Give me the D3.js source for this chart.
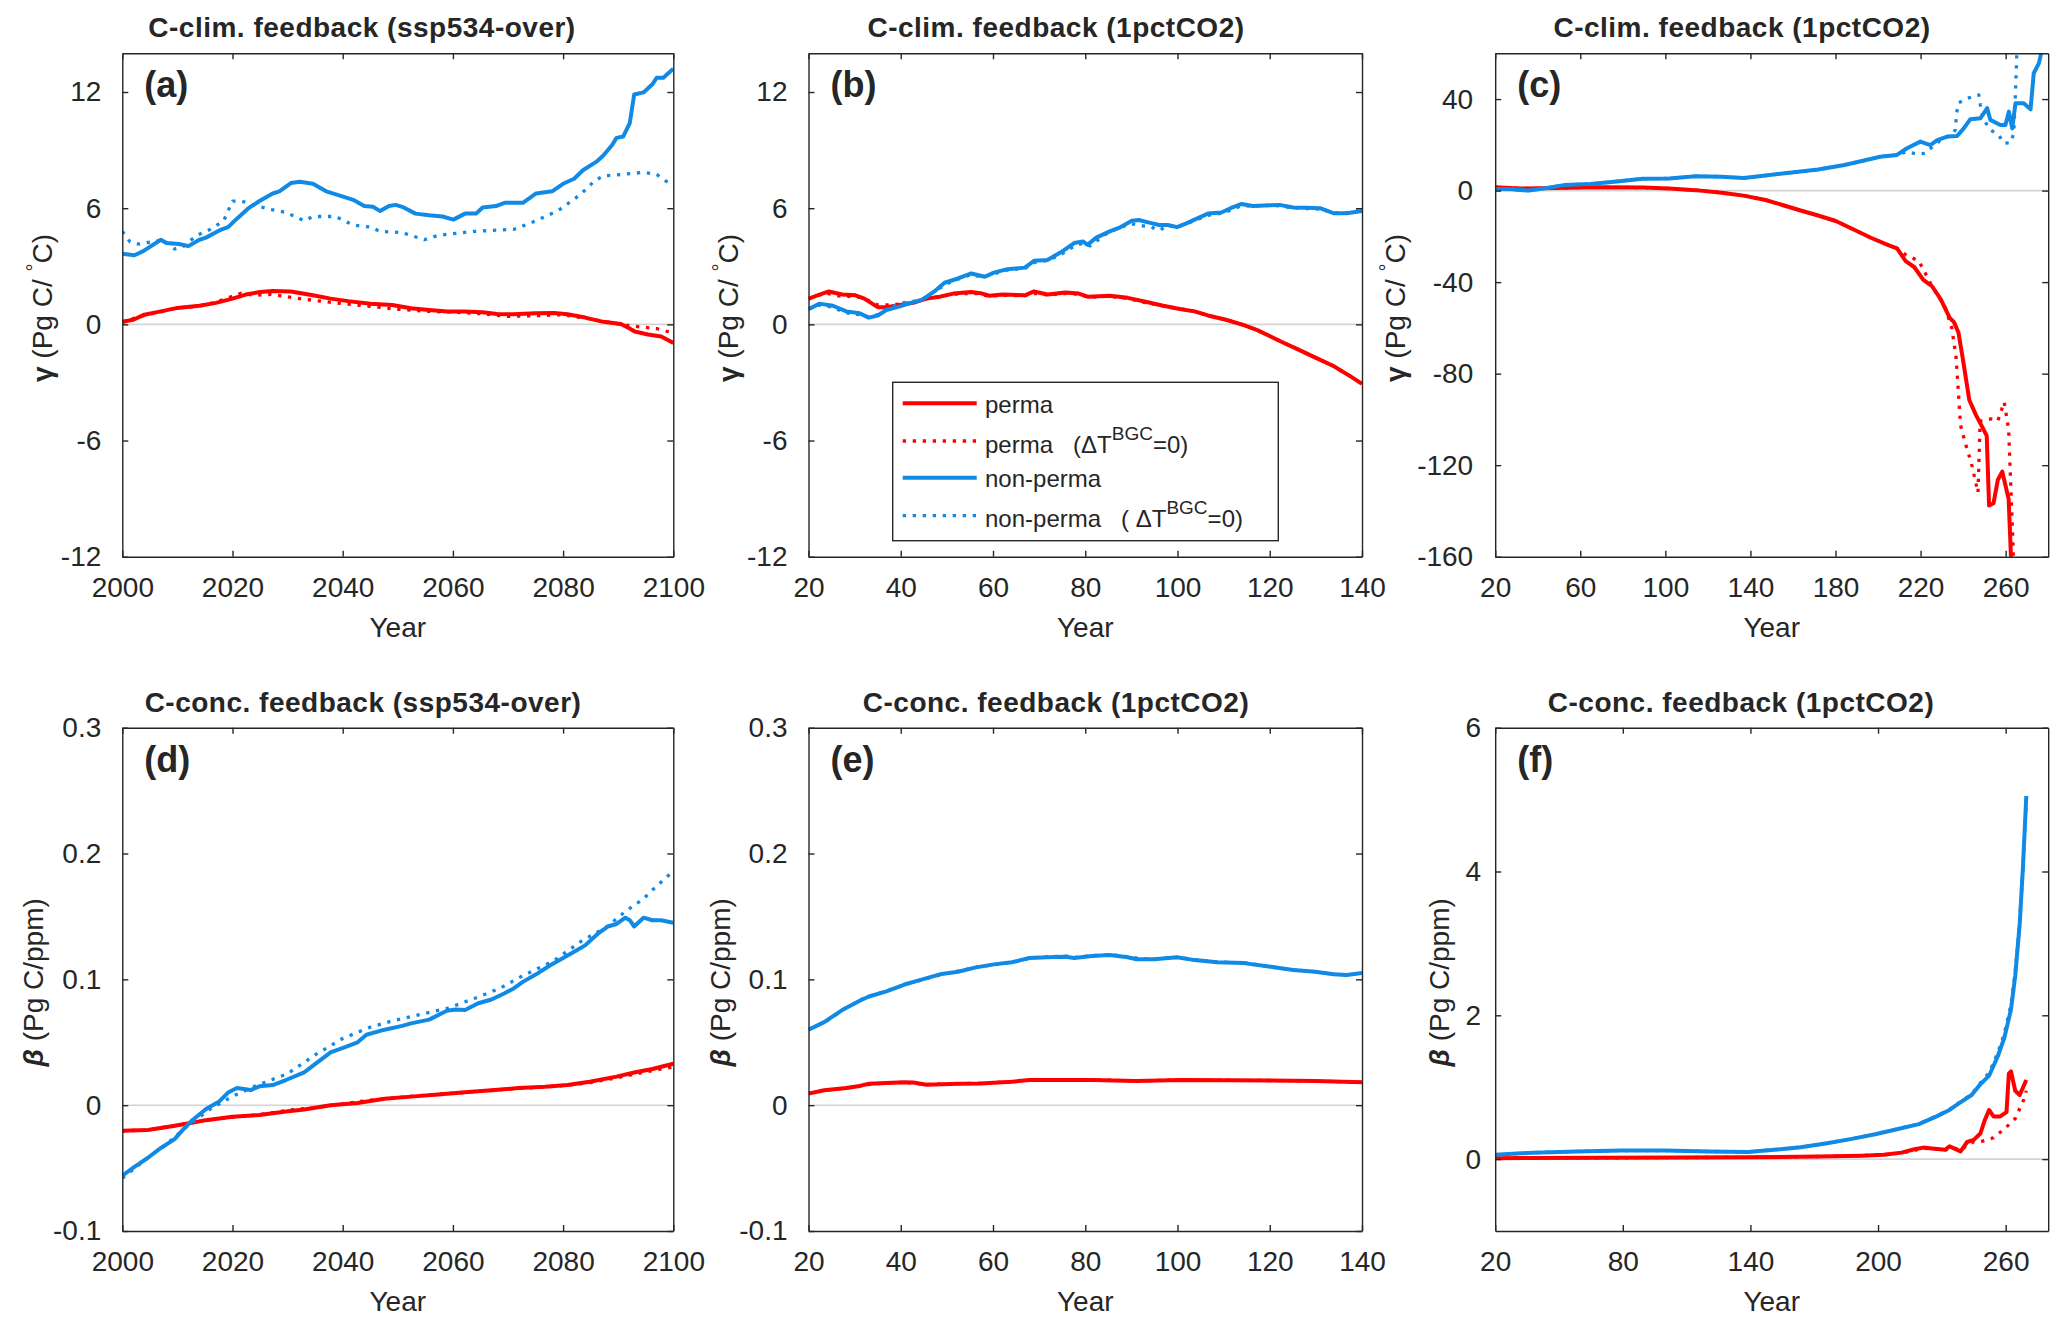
<!DOCTYPE html>
<html>
<head>
<meta charset="utf-8">
<script src="https://cdn.jsdelivr.net/npm/d3@7"></script>
<style>
  body { margin: 0; background: #fff; }
  text { font-family: "Liberation Sans", Arial, Helvetica, sans-serif; fill: #262626; }
</style>
</head>
<body>
<script>
// ---------- data ----------
var titles = ["C-clim. feedback (ssp534-over)", "C-clim. feedback (1pctCO2)", "C-clim. feedback (1pctCO2)",
              "C-conc. feedback (ssp534-over)", "C-conc. feedback (1pctCO2)", "C-conc. feedback (1pctCO2)"];
var panelLabels = ["(a)", "(b)", "(c)", "(d)", "(e)", "(f)"];
var legendLabels = ["perma", "perma", "non-perma", "non-perma"];

var ticksSsp = [2000, 2020, 2040, 2060, 2080, 2100];
var ticks140 = [20, 40, 60, 80, 100, 120, 140];
var ticksC = [20, 60, 100, 140, 180, 220, 260];
var ticksF = [20, 80, 140, 200, 260];
var ticksGamma = [-12, -6, 0, 6, 12];
var ticksGammaC = [-160, -120, -80, -40, 0, 40];
var ticksBeta = [-0.1, 0, 0.1, 0.2, 0.3];
var ticksBetaF = [0, 2, 4, 6];

// (a) gamma, ssp534-over
var a_perma = [[2000,0.13],[2002,0.24],[2004,0.5],[2007,0.67],[2010,0.85],[2014,0.96],[2017,1.11],[2020,1.33],[2022.4,1.54],[2025,1.67],[2027.3,1.72],[2030.6,1.7],[2034.6,1.5],[2037.8,1.33],[2041,1.2],[2045,1.07],[2049,1.0],[2052.4,0.83],[2055.7,0.74],[2059,0.67],[2062,0.67],[2065.4,0.63],[2068,0.54],[2071,0.52],[2075,0.57],[2078.4,0.59],[2080.8,0.52],[2084,0.35],[2087.3,0.13],[2090.5,0.02],[2092,-0.2],[2093,-0.37],[2095.4,-0.52],[2097.8,-0.63],[2100,-0.96]];
var a_permaDot = [[2000,0.1],[2003,0.4],[2007,0.65],[2010,0.85],[2014,0.95],[2017,1.15],[2020,1.45],[2021.5,1.6],[2024,1.5],[2027,1.55],[2030,1.42],[2033,1.3],[2036,1.2],[2040,1.07],[2045,0.93],[2050,0.78],[2055,0.68],[2060,0.63],[2065,0.55],[2070,0.41],[2075,0.45],[2080,0.5],[2085,0.28],[2090,0.02],[2093,-0.1],[2097,-0.22],[2100,-0.45]];
var a_non = [[2000,3.65],[2002.2,3.57],[2003.8,3.78],[2007,4.37],[2008,4.2],[2010.3,4.15],[2012,4.04],[2014,4.37],[2015.2,4.48],[2017.6,4.85],[2019.2,5.02],[2020.8,5.46],[2022.9,6.0],[2024.9,6.37],[2027.3,6.76],[2028.5,6.87],[2030.6,7.3],[2032.2,7.37],[2034.6,7.26],[2037,6.87],[2039.5,6.65],[2041.9,6.43],[2043.9,6.11],[2045.5,6.07],[2046.8,5.85],[2048.4,6.11],[2049.6,6.17],[2050.8,6.07],[2053.2,5.72],[2055.7,5.63],[2058.1,5.57],[2060.1,5.41],[2062.2,5.72],[2064.2,5.72],[2065.4,6.04],[2067.8,6.11],[2069.4,6.28],[2072.7,6.28],[2075.1,6.76],[2078,6.87],[2080,7.26],[2082,7.52],[2083.6,7.96],[2086,8.39],[2087.3,8.72],[2088.9,9.26],[2089.7,9.63],[2090.9,9.7],[2092.1,10.4],[2092.9,11.87],[2094.6,11.98],[2096.2,12.4],[2097,12.74],[2098.2,12.74],[2100,13.2]];
var a_nonDot = [[2000,4.8],[2001.4,4.26],[2003,4.15],[2005.4,4.26],[2007.4,4.37],[2009.5,3.89],[2011.1,4.04],[2013.5,4.59],[2016,4.91],[2018.4,5.35],[2020,6.37],[2021.6,6.37],[2023.3,6.22],[2026.5,5.96],[2029.7,5.78],[2033,5.35],[2034.6,5.57],[2038.7,5.57],[2041.9,5.13],[2045.1,5.02],[2046.8,4.8],[2050.8,4.74],[2054.8,4.37],[2057.3,4.59],[2060.5,4.7],[2063.8,4.8],[2067,4.85],[2071.1,4.91],[2075.1,5.35],[2079.2,5.89],[2083.2,6.72],[2085.7,7.41],[2087.3,7.67],[2090.5,7.74],[2094.6,7.85],[2097,7.74],[2098.6,7.41],[2100,7.2]];

// (b) gamma, 1pctCO2 (first 140 years)
var b_perma = [[20,1.33],[22.4,1.54],[24.4,1.7],[27.3,1.54],[30.2,1.5],[32.1,1.33],[35,0.89],[36.9,0.89],[39.8,1.0],[42.7,1.11],[45.6,1.33],[48.5,1.43],[51.4,1.59],[55.3,1.67],[57.3,1.61],[59.2,1.48],[62.1,1.54],[66.9,1.5],[68.9,1.7],[71.8,1.54],[75.7,1.65],[78.6,1.59],[80.5,1.43],[85.3,1.48],[89.2,1.37],[93.1,1.17],[96.9,0.96],[100.8,0.78],[103.7,0.67],[106.6,0.46],[110.5,0.24],[114.4,-0.04],[117.3,-0.3],[120.2,-0.63],[123.1,-0.96],[126,-1.28],[129.9,-1.72],[133.8,-2.15],[137.6,-2.7],[140,-3.07]];
var b_permaDot = [[20,1.3],[22,1.5],[24,1.6],[27,1.45],[30,1.45],[32,1.35],[35,1.0],[37,1.0],[40,1.05],[43,1.15],[46,1.35],[49,1.45],[51,1.55],[55,1.6],[57,1.58],[59,1.45],[62,1.5],[67,1.48],[69,1.6],[72,1.52],[76,1.6],[79,1.55],[80.5,1.4],[85,1.45],[89,1.35],[93,1.12],[97,0.95],[100.8,0.8],[103.7,0.67],[106.6,0.46],[110.5,0.24],[114.4,-0.04],[117.3,-0.3],[120.2,-0.63],[123.1,-0.96],[126,-1.28],[129.9,-1.72],[133.8,-2.15],[137.6,-2.7],[140,-3.07]];
var b_non = [[20,0.78],[22.4,1.07],[25.3,0.96],[28.2,0.67],[31.1,0.57],[33.1,0.35],[35,0.46],[36.9,0.74],[39.8,0.93],[42.7,1.15],[44.7,1.28],[47.6,1.76],[49.5,2.15],[52.4,2.37],[55.3,2.63],[58.2,2.46],[60.2,2.67],[63.1,2.85],[66.9,2.93],[68.9,3.28],[71.8,3.33],[74.7,3.72],[77.6,4.2],[79.5,4.28],[80.5,4.11],[82.4,4.48],[85.3,4.8],[87.3,4.98],[90.1,5.35],[91.6,5.39],[94.1,5.24],[96,5.13],[97.9,5.13],[99.9,5.02],[101.8,5.2],[103.7,5.41],[106.6,5.72],[109.5,5.78],[111.5,6.0],[113.9,6.22],[116.3,6.11],[120.2,6.15],[122.1,6.17],[125.1,6.04],[128,6.02],[130.9,6.0],[133.8,5.74],[136.7,5.74],[140,5.85]];
var b_nonDot = [[20,0.8],[22,1.0],[25,0.9],[28,0.6],[31,0.5],[33,0.35],[35,0.5],[37,0.8],[40,1.1],[43,1.2],[45,1.35],[48,1.8],[50,2.1],[52,2.3],[55,2.55],[58,2.45],[60,2.6],[63,2.8],[67,2.9],[69,3.2],[72,3.3],[75,3.65],[78,4.1],[80,4.2],[81,4.05],[83,4.4],[85,4.75],[87,4.95],[90,5.2],[92,5.1],[94,5.05],[96,4.85],[98,5.1],[100,5.05],[102,5.2],[104,5.4],[107,5.65],[110,5.75],[112,5.95],[114,6.15],[116,6.1],[120,6.15],[122,6.12],[125,6.02],[128,5.98],[131,5.95],[134,5.75],[137,5.78],[140,5.88]];

// (c) gamma, 1pctCO2 (full run)
var c_perma = [[20,1.5],[31.7,0.9],[48.2,1.1],[68.8,1.5],[89.4,1.3],[101.8,0.9],[114.1,0.2],[126.5,-0.9],[136.8,-2.2],[147.1,-4.1],[155.4,-6.4],[163.6,-8.7],[171.8,-10.9],[180.1,-13.3],[188.3,-16.9],[196.6,-20.6],[204.8,-23.8],[208.9,-25.2],[213,-30.8],[217.1,-33.5],[221.3,-39],[225.4,-41.8],[229.5,-47.5],[233.7,-55.6],[235.7,-57.5],[237.8,-62],[239.8,-73.1],[242.9,-91.5],[246,-98],[249.1,-103.5],[251.1,-107.2],[252.2,-137.6],[254.3,-136.6],[256.3,-126.5],[258.4,-122.8],[261.4,-134.8],[262.5,-160],[263,-175]];
var c_permaDot = [[20,1.5],[31.7,0.9],[48.2,1.1],[68.8,1.5],[89.4,1.3],[101.8,0.9],[114.1,0.2],[126.5,-0.9],[136.8,-2.2],[147.1,-4.1],[155.4,-6.4],[163.6,-8.7],[171.8,-10.9],[180.1,-13.3],[188.3,-16.9],[196.6,-20.6],[204.8,-23.8],[208.9,-25.2],[213,-28],[219.2,-30.8],[225.4,-41.8],[231.6,-51],[234.7,-60.2],[236.7,-73.1],[238.8,-102.6],[240.9,-110],[243.9,-119.2],[247,-132],[248,-100.7],[253.2,-99.8],[256.3,-100.7],[259.3,-92.4],[261.4,-104.4],[263.5,-156],[264,-175]];
var c_non = [[20,0.7],[27.6,0.55],[35.9,0],[44.1,1.1],[52.3,2.4],[64.7,2.9],[77.1,4.0],[89.4,5.2],[101.8,5.3],[114.1,6.3],[126.5,6.1],[136.8,5.5],[147.1,6.6],[159.5,7.9],[171.8,9.2],[184.2,11.2],[192.4,12.9],[201,14.8],[208.9,15.6],[213.6,18.5],[219.9,21.4],[224.6,19.9],[227.8,22.1],[232.5,23.6],[237.2,23.9],[240.3,27.2],[243.4,31.2],[248.1,31.6],[251.3,36],[252.8,30.9],[257.5,28.7],[259.9,28.7],[261.5,34.5],[263.1,27.2],[264.6,38.2],[268.5,38.2],[271.7,35.5],[273.2,51.3],[275.6,55.6],[277.2,62],[278,70]];
var c_nonDot = [[20,0.7],[27.6,0.55],[35.9,0],[44.1,1.1],[52.3,2.4],[64.7,2.9],[77.1,4.0],[89.4,5.2],[101.8,5.3],[114.1,6.3],[126.5,6.1],[136.8,5.5],[147.1,6.6],[159.5,7.9],[171.8,9.2],[184.2,11.2],[192.4,12.9],[201,14.8],[208.9,15.6],[213.6,17],[218.3,16],[222.3,16.3],[226,19.5],[230,22.5],[234,24],[236.4,26.5],[236.9,33.8],[238,38.4],[241.9,40.3],[247.4,41.8],[248.1,37.4],[249.7,30.9],[252.8,26.5],[256.7,24.3],[259.1,20.7],[262.3,20.9],[263.8,25],[264.6,42.5],[265.1,55.6],[265.5,70]];

// (d) beta, ssp534-over
var d_perma = [[2000,-0.0203],[2004.6,-0.0197],[2008.7,-0.017],[2011.9,-0.0146],[2015.2,-0.0119],[2020,-0.0092],[2024.9,-0.0078],[2029.7,-0.0051],[2033,-0.0034],[2037.8,0],[2042.7,0.0017],[2047.6,0.0051],[2052.4,0.0068],[2057.3,0.0085],[2062.2,0.0102],[2067,0.0119],[2071.9,0.0136],[2076.7,0.0146],[2080.8,0.016],[2084.8,0.0186],[2089.7,0.0227],[2092.9,0.026],[2096.2,0.0288],[2100,0.0329]];
var d_permaDot = [[2000,-0.0205],[2005,-0.0195],[2010,-0.016],[2015,-0.012],[2020,-0.0095],[2025,-0.0075],[2030,-0.004],[2035,-0.002],[2040,0.001],[2045,0.004],[2050,0.006],[2055,0.008],[2060,0.0095],[2065,0.011],[2070,0.0128],[2075,0.014],[2080,0.0155],[2085,0.018],[2090,0.022],[2095,0.0265],[2100,0.0305]];
var d_non = [[2000,-0.056],[2002.2,-0.049],[2004.6,-0.042],[2007,-0.034],[2009.5,-0.027],[2011.1,-0.019],[2012.7,-0.012],[2015.2,-0.003],[2017.6,0.003],[2019.2,0.01],[2020.8,0.0136],[2023.3,0.012],[2024.9,0.015],[2027.3,0.016],[2029.7,0.02],[2033,0.026],[2035.4,0.034],[2037.8,0.042],[2040.3,0.046],[2042.7,0.05],[2044.3,0.056],[2047.6,0.06],[2050.8,0.063],[2052.4,0.065],[2055.7,0.068],[2058.9,0.075],[2060.5,0.076],[2062.2,0.0756],[2064.6,0.081],[2067,0.084],[2069.4,0.089],[2071.1,0.093],[2072.7,0.098],[2075.1,0.104],[2077.6,0.111],[2080,0.117],[2082.4,0.123],[2084,0.127],[2086.5,0.137],[2088.1,0.142],[2089.7,0.144],[2091.3,0.149],[2092.1,0.147],[2092.9,0.142],[2094.6,0.149],[2096.2,0.147],[2097.8,0.147],[2100,0.145]];
var d_nonDot = [[2000,-0.058],[2004,-0.044],[2008,-0.031],[2012,-0.016],[2016,-0.003],[2018,0.002],[2020,0.007],[2024,0.015],[2030,0.025],[2035,0.04],[2040,0.053],[2045,0.062],[2049,0.067],[2054,0.072],[2059,0.077],[2064,0.085],[2068.6,0.093],[2072.3,0.102],[2078.4,0.115],[2083.2,0.13],[2088,0.142],[2091.3,0.154],[2094.6,0.164],[2096.2,0.171],[2100,0.186]];

// (e) beta, 1pctCO2 (first 140 years)
var e_perma = [[20,0.0092],[23.4,0.0119],[28.2,0.0136],[31.1,0.0153],[33.1,0.017],[36.9,0.0176],[40.8,0.0183],[42.7,0.018],[45.6,0.0163],[52.4,0.017],[57.3,0.0173],[64.1,0.0186],[67.9,0.02],[76.6,0.02],[81.5,0.02],[91.1,0.0193],[100.8,0.02],[120.2,0.0197],[129.9,0.0193],[140,0.0183]];
var e_permaDot = [[20,0.0095],[24,0.012],[28,0.0135],[31,0.015],[34,0.017],[38,0.0178],[41,0.0182],[45,0.0165],[52,0.017],[58,0.0175],[64,0.0188],[68,0.02],[77,0.0198],[82,0.0202],[91,0.0192],[100,0.0201],[120,0.0196],[130,0.0192],[140,0.0182]];
var e_non = [[20,0.06],[23.4,0.066],[27.3,0.0756],[31.1,0.083],[33.1,0.0864],[36.9,0.0905],[40.8,0.0959],[44.7,0.1],[48.5,0.104],[52.4,0.106],[56.3,0.1095],[60.2,0.1119],[64.1,0.1136],[67.9,0.117],[71.8,0.1176],[75.7,0.118],[77.6,0.117],[81.5,0.1186],[85.3,0.1193],[89.2,0.1176],[91.1,0.116],[95,0.116],[99.9,0.1176],[103.7,0.1153],[108.6,0.1136],[114.4,0.1129],[120.2,0.11],[125.1,0.1075],[129.9,0.106],[133.8,0.104],[136.7,0.1034],[140,0.105]];
var e_nonDot = [[20,0.06],[24,0.067],[28,0.077],[32,0.085],[37,0.091],[41,0.096],[45,0.1],[49,0.104],[53,0.107],[57,0.11],[61,0.112],[65,0.114],[68,0.117],[72,0.118],[76,0.1185],[78,0.1175],[82,0.119],[86,0.1195],[89,0.118],[92,0.1165],[96,0.1165],[100,0.1175],[104,0.1155],[109,0.1138],[115,0.113],[120,0.11],[125,0.1077],[130,0.106],[134,0.104],[137,0.1035],[140,0.105]];

// (f) beta, 1pctCO2 (full run)
var f_perma = [[20,0.012],[68.8,0.018],[138.9,0.024],[171.8,0.036],[192.4,0.048],[202.7,0.06],[211,0.09],[217.1,0.137],[221.3,0.16],[225.4,0.149],[231.6,0.13],[233.6,0.178],[235.7,0.149],[238.8,0.107],[241.9,0.238],[245,0.267],[248.1,0.356],[250.1,0.535],[252.2,0.683],[254.3,0.594],[257.4,0.594],[260.4,0.654],[261.5,1.19],[262.5,1.22],[264.5,0.951],[266.6,0.891],[269.7,1.1]];
var f_permaDot = [[20,0.012],[68.8,0.018],[138.9,0.024],[171.8,0.036],[192.4,0.048],[202.7,0.06],[211,0.085],[217,0.12],[221,0.15],[226,0.14],[232,0.13],[236,0.15],[239,0.12],[242,0.2],[245,0.24],[248,0.238],[254.3,0.297],[260.4,0.446],[264.5,0.564],[268.6,0.832],[269.7,0.95]];
var f_non = [[20,0.06],[37.9,0.09],[58.5,0.107],[79.1,0.119],[99.7,0.119],[120.3,0.107],[138.9,0.1],[151.2,0.13],[163.6,0.166],[176,0.22],[188.3,0.285],[198.6,0.345],[208.9,0.416],[219.2,0.487],[227.5,0.594],[233.6,0.683],[237.8,0.772],[244,0.891],[248.1,1.04],[252.2,1.16],[256.3,1.43],[259.4,1.69],[262.5,2.08],[264.5,2.55],[266.6,3.27],[268.2,4.1],[269.7,5.05]];
var f_nonDot = [[20,0.06],[37.9,0.09],[58.5,0.107],[79.1,0.119],[99.7,0.119],[120.3,0.107],[138.9,0.1],[151.2,0.13],[163.6,0.166],[176,0.22],[188.3,0.285],[198.6,0.345],[208.9,0.42],[219.2,0.49],[227.5,0.6],[233.6,0.69],[237.8,0.78],[244,0.9],[248.1,1.06],[252.2,1.2],[256.3,1.48],[259.4,1.75],[262.5,2.15],[264.5,2.6],[266.6,3.3],[268.2,4.1],[269.7,5.0]];

// ---------- layout ----------
var width = 2067, height = 1329;
var red = "#ff0000", blue = "#118ae6";

var svg = d3.select("body").append("svg")
    .attr("width", width)
    .attr("height", height);

var top1 = 53.3, bot1 = 556.7, top2 = 727.7, bot2 = 1231;
var cols = [[122.3, 673.3], [808.5, 1362], [1495.2, 2048.2]];

var panels = [
  {x: cols[0], y: [top1, bot1], xd: [2000, 2100], yd: [-12, 14], xt: ticksSsp, yt: ticksGamma, titleX: 362, ylabX: 52, pad: 21, kind: "g",
   lines: [a_perma, a_permaDot, a_non, a_nonDot]},
  {x: cols[1], y: [top1, bot1], xd: [20, 140], yd: [-12, 14], xt: ticks140, yt: ticksGamma, titleX: 1056, ylabX: 738, pad: 21, kind: "g",
   lines: [b_perma, b_permaDot, b_non, b_nonDot]},
  {x: cols[2], y: [top1, bot1], xd: [20, 280], yd: [-160, 60], xt: ticksC, yt: ticksGammaC, titleX: 1742, ylabX: 1405, pad: 22, kind: "g",
   lines: [c_perma, c_permaDot, c_non, c_nonDot]},
  {x: cols[0], y: [top2, bot2], xd: [2000, 2100], yd: [-0.1, 0.3], xt: ticksSsp, yt: ticksBeta, titleX: 363, ylabX: 43, pad: 21, kind: "b",
   lines: [d_perma, d_permaDot, d_non, d_nonDot]},
  {x: cols[1], y: [top2, bot2], xd: [20, 140], yd: [-0.1, 0.3], xt: ticks140, yt: ticksBeta, titleX: 1056, ylabX: 730, pad: 21, kind: "b",
   lines: [e_perma, e_permaDot, e_non, e_nonDot]},
  {x: cols[2], y: [top2, bot2], xd: [20, 280], yd: [-1, 6], xt: ticksF, yt: ticksBetaF, titleX: 1741, ylabX: 1449, pad: 14, kind: "b",
   lines: [f_perma, f_permaDot, f_non, f_nonDot]}
];

var styles = [
  {color: red, w: 4, dash: null},
  {color: red, w: 3.3, dash: "3.3,6.7"},
  {color: blue, w: 4, dash: null},
  {color: blue, w: 3.3, dash: "3.3,6.7"}
];

panels.forEach(function (p, i) {
  var x = d3.scaleLinear().domain(p.xd).range(p.x);
  var y = d3.scaleLinear().domain(p.yd).range([p.y[1], p.y[0]]);
  var g = svg.append("g").attr("class", "panel");

  g.append("clipPath").attr("id", "clip" + i)
    .append("rect")
    .attr("x", p.x[0]).attr("y", p.y[0])
    .attr("width", p.x[1] - p.x[0]).attr("height", p.y[1] - p.y[0]);

  // zero line
  g.append("line")
    .attr("x1", p.x[0]).attr("x2", p.x[1])
    .attr("y1", y(0)).attr("y2", y(0))
    .attr("stroke", "#d4d4d4").attr("stroke-width", 1.6);

  var line = d3.line()
    .x(function (d) { return x(d[0]); })
    .y(function (d) { return y(d[1]); });

  var plot = g.append("g").attr("clip-path", "url(#clip" + i + ")");
  p.lines.forEach(function (data, k) {
    var s = styles[k];
    plot.append("path")
      .datum(data)
      .attr("d", line)
      .attr("fill", "none")
      .attr("stroke", s.color)
      .attr("stroke-width", s.w)
      .attr("stroke-linejoin", "round")
      .attr("stroke-dasharray", s.dash);
  });

  // axes, MATLAB style: box with inward ticks on all sides
  var fmt = function (d) { return String(d); };
  g.append("g").attr("transform", "translate(0," + p.y[1] + ")")
    .call(d3.axisBottom(x).tickValues(p.xt).tickSizeInner(-6).tickSizeOuter(0).tickPadding(20).tickFormat(fmt));
  g.append("g").attr("transform", "translate(0," + p.y[0] + ")")
    .call(d3.axisTop(x).tickValues(p.xt).tickSizeInner(-6).tickSizeOuter(0).tickFormat(""));
  g.append("g").attr("transform", "translate(" + p.x[0] + ",0)")
    .call(d3.axisLeft(y).tickValues(p.yt).tickSizeInner(-6).tickSizeOuter(0).tickPadding(p.pad).tickFormat(fmt));
  g.append("g").attr("transform", "translate(" + p.x[1] + ",0)")
    .call(d3.axisRight(y).tickValues(p.yt).tickSizeInner(-6).tickSizeOuter(0).tickFormat(""));

  g.selectAll(".domain").attr("stroke", "#262626").attr("stroke-width", 1.4);
  g.selectAll(".tick line").attr("stroke", "#262626").attr("stroke-width", 1.4);
  g.selectAll(".tick text")
    .style("font-family", "'Liberation Sans', Arial, sans-serif")
    .style("font-size", "28px").attr("fill", "#262626");

  // title
  g.append("text")
    .attr("x", p.titleX).attr("y", p.y[0] - 16)
    .attr("text-anchor", "middle")
    .style("font-size", "28px").style("font-weight", "bold").style("letter-spacing", "0.5px")
    .attr("fill", "#000")
    .text(titles[i]);

  // panel label
  g.append("text")
    .attr("x", p.x[0] + 22).attr("y", p.y[0] + 44)
    .style("font-size", "36px").style("font-weight", "bold")
    .attr("fill", "#000")
    .text(panelLabels[i]);

  // x label
  g.append("text")
    .attr("x", (p.x[0] + p.x[1]) / 2).attr("y", p.y[1] + 80)
    .attr("text-anchor", "middle")
    .style("font-size", "28px")
    .text("Year");

  // y label
  var cy = (p.y[0] + p.y[1]) / 2 + 3;
  var yl = g.append("text")
    .attr("transform", "translate(" + p.ylabX + "," + cy + ") rotate(-90)")
    .attr("text-anchor", "middle")
    .style("font-size", "28px");
  if (p.kind === "g") {
    yl.append("tspan").style("font-weight", "bold").text("γ");
    yl.append("tspan").text(" (Pg C/ ");
    yl.append("tspan").attr("dy", -11).style("font-size", "20px").text("°");
    yl.append("tspan").attr("dy", 11).text("C)");
  } else {
    yl.append("tspan").style("font-weight", "bold").style("font-style", "italic").text("β");
    yl.append("tspan").text(" (Pg C/ppm)");
  }
});

// ---------- legend (panel b) ----------
var leg = svg.append("g");
leg.append("rect")
  .attr("x", 892.7).attr("y", 382.3)
  .attr("width", 385.6).attr("height", 158.4)
  .attr("fill", "#fff").attr("stroke", "#262626").attr("stroke-width", 1.4);

var legRows = [
  {lineY: 403.3, textY: 412.7, tag: null},
  {lineY: 441, textY: 453.3, tag: "   ("},
  {lineY: 477.7, textY: 486.7, tag: null},
  {lineY: 515.7, textY: 526.7, tag: "   ( "}
];
legRows.forEach(function (r, k) {
  var s = styles[k];
  leg.append("line")
    .attr("x1", 902.7).attr("x2", 976.7)
    .attr("y1", r.lineY).attr("y2", r.lineY)
    .attr("stroke", s.color).attr("stroke-width", s.w)
    .attr("stroke-dasharray", s.dash);
  var t = leg.append("text")
    .attr("x", 985).attr("y", r.textY)
    .attr("xml:space", "preserve")
    .style("white-space", "pre")
    .style("font-size", "24px")
    .attr("fill", "#000");
  t.append("tspan").text(legendLabels[k]);
  if (r.tag) {
    t.append("tspan").text(r.tag + "ΔT");
    t.append("tspan").attr("dy", -13).style("font-size", "19px").text("BGC");
    t.append("tspan").attr("dy", 13).text("=0)");
  }
});
</script>
</body>
</html>
